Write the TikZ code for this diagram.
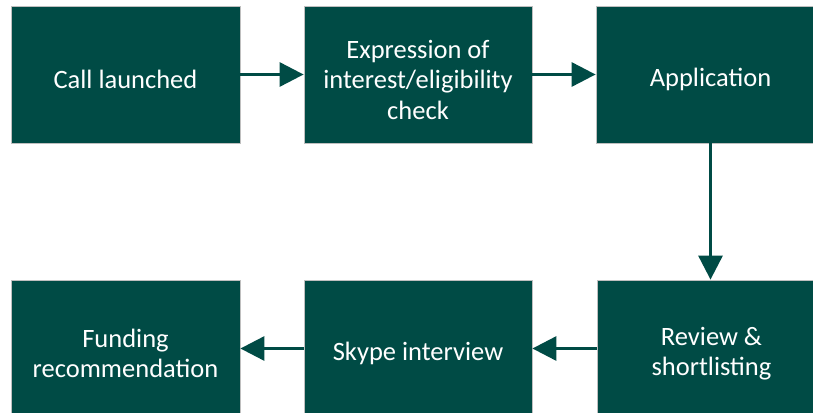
\documentclass[tikz,border=0pt]{standalone}
\usepackage{fontspec}
\setmainfont{Carlito}
\usetikzlibrary{arrows.meta}
\definecolor{boxgreen}{HTML}{004B45}
\definecolor{boxedge}{HTML}{BFBFBF}
\begin{document}
\begin{tikzpicture}[x=1pt,y=-1pt,
  stage/.style={draw=boxedge, line width=0.8pt, fill=boxgreen,
    minimum width=229pt, minimum height=137pt, inner sep=0pt},
  lbl/.style={text=white, align=center, inner sep=0pt, yshift=-5pt,
    font=\fontsize{26.5}{30.5}\selectfont},
  flow/.style={draw=boxgreen, line width=3pt, -{Triangle[length=24pt,width=24pt]}}]
\useasboundingbox (0,0) rectangle (813,412);
\node[stage] (call) at (125.5,74.5) {};
\node[stage, minimum width=228pt] (eoi) at (418,74.5) {};
\node[stage] (app) at (710.5,74.5) {};
\node[stage] (fund) at (125.5,348.5) {};
\node[stage, minimum width=228pt] (skype) at (418,348.5) {};
\node[stage] (review) at (711.5,348.5) {};
\node[lbl] (calltxt) at (call.center) {Call launched};
\node[lbl] (eoitxt) at (eoi.center) {Expression of\\interest/eligibility\\check};
\node[lbl] (apptxt) at (app.center) {Application};
\node[lbl] (fundtxt) at (fund.center) {Funding\\recommendation};
\node[lbl] (skypetxt) at (skype.center) {Skype interview};
\node[lbl] (reviewtxt) at (review.center) {Review \&\\shortlisting};
\draw[flow] (call) -- (eoi);
\draw[flow] (eoi) -- (app);
\draw[flow] (app.south) -- (app.south |- review.north);
\draw[flow] (review) -- (skype);
\draw[flow] (skype) -- (fund);
\end{tikzpicture}
\end{document}
